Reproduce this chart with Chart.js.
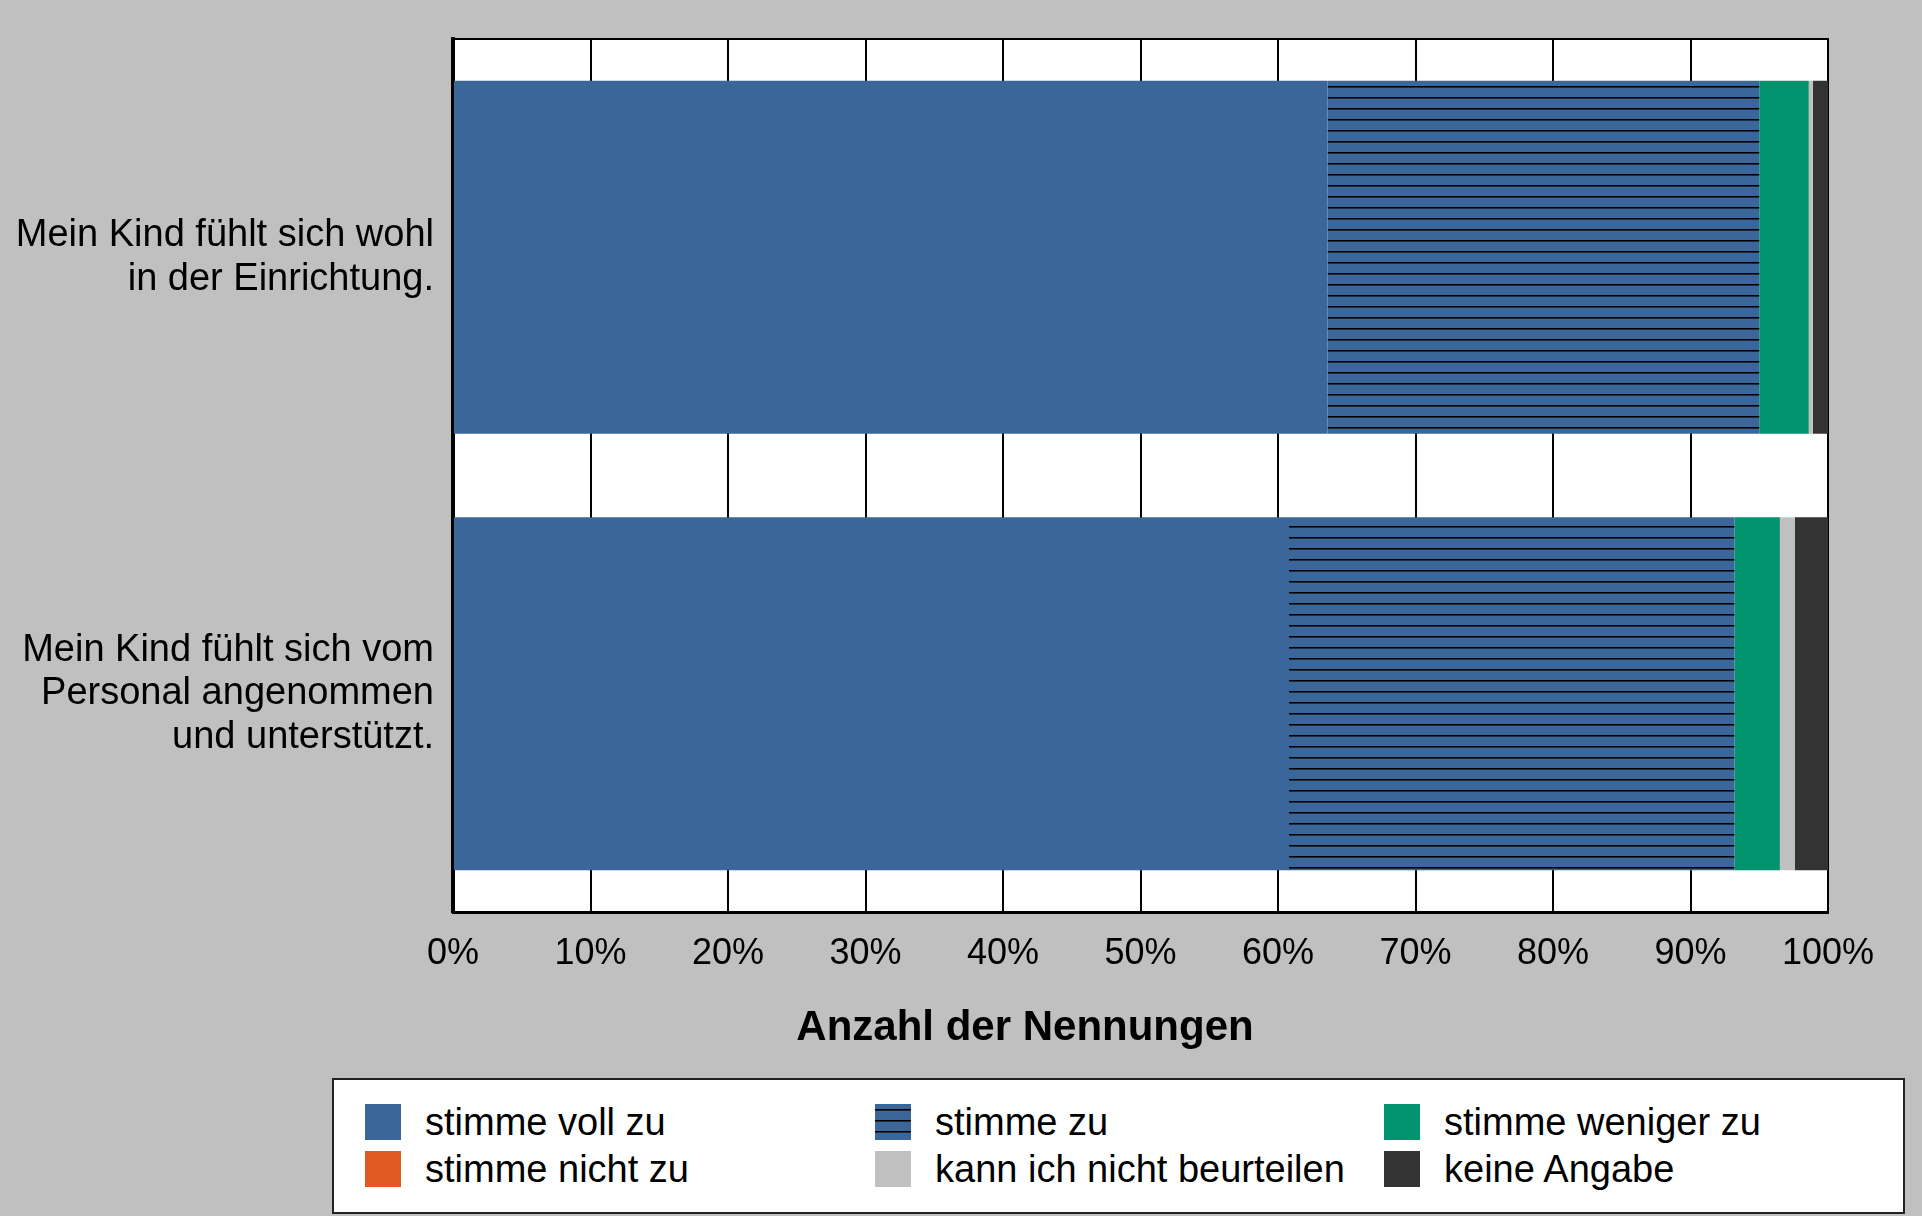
<!DOCTYPE html>
<html lang="de">
<head>
<meta charset="utf-8">
<title>Anzahl der Nennungen</title>
<script src="https://cdn.jsdelivr.net/npm/chart.js@4.4.0/dist/chart.umd.min.js"></script>
<style>
  html, body { margin: 0; padding: 0; background: #c0c0c0; }
  #wrap { position: relative; width: 1922px; height: 1216px; }
  #legend {
    position: absolute; left: 332px; top: 1078px; width: 1569px; height: 132px;
    background: #fff; border: 2px solid #222;
    font-family: "Liberation Sans", Arial, sans-serif; font-size: 38px; color: #000;
  }
  .item { position: absolute; height: 36px; display: flex; align-items: center; white-space: nowrap; }
  .box { width: 36px; height: 36px; margin-right: 24px; flex: none; }
</style>
</head>
<body>
<div id="wrap">
  <canvas id="chart" width="1922" height="1216"></canvas>
  <div id="legend"></div>
</div>
<script>
// Data (shares in %)
const categories = [
    ["Mein Kind fühlt sich wohl", "in der Einrichtung."],
    ["Mein Kind fühlt sich vom", "Personal angenommen", "und unterstützt."]
];
const seriesNames = ["stimme voll zu", "stimme zu", "stimme weniger zu", "stimme nicht zu", "kann ich nicht beurteilen", "keine Angabe"];
const stimmeVollZu = [63.6, 60.8];
const stimmeZu = [31.4, 32.4];
const stimmeWenigerZu = [3.6, 3.3];
const stimmeNichtZu = [0, 0];
const kannNichtBeurteilen = [0.3, 1.1];
const keineAngabe = [1.1, 2.4];
const xTickLabels = ["0%", "10%", "20%", "30%", "40%", "50%", "60%", "70%", "80%", "90%", "100%"];
const xTitle = "Anzahl der Nennungen";

const blue = '#3a6699';

function stripePattern() { // horizontal black lines on blue for "stimme zu"
    const c = document.createElement('canvas');
    c.width = 8;
    c.height = 11;
    const g = c.getContext('2d');
    g.fillStyle = blue;
    g.fillRect(0, 0, 8, 11);
    g.fillStyle = '#000';
    g.fillRect(0, 9, 8, 1);
    g.fillStyle = '#1b2c40';
    g.fillRect(0, 10, 8, 1);
    return g.createPattern(c, 'repeat');
}

const seriesValues = [stimmeVollZu, stimmeZu, stimmeWenigerZu, stimmeNichtZu, kannNichtBeurteilen, keineAngabe];
const seriesFills = [blue, stripePattern(), '#00936e', '#df5a21', '#c0c0c0', '#333333'];
const legendFills = [blue,
    'repeating-linear-gradient(to bottom, #3a6699 0 5px, #000 5px 6px, #1b2c40 6px 7px, #3a6699 7px 11px)',
    '#00936e', '#df5a21', '#c0c0c0', '#333333'];

// white plot area, thin top frame line and the axis title
const plotFrame = {
    id: 'plotFrame',
    beforeDraw(chart) {
        const {ctx, chartArea: a} = chart;
        ctx.save();
        ctx.fillStyle = '#fff';
        ctx.fillRect(a.left, a.top, a.right - a.left, a.bottom - a.top);
        ctx.restore();
    },
    afterDraw(chart) {
        const {ctx, chartArea: a} = chart;
        ctx.save();
        ctx.strokeStyle = '#000';
        ctx.lineWidth = 2;
        ctx.beginPath();
        ctx.moveTo(a.left, a.top);
        ctx.lineTo(a.right + 1, a.top);
        ctx.stroke();
        ctx.fillStyle = '#000';
        ctx.font = 'bold 42px "Liberation Sans", Arial, sans-serif';
        ctx.textAlign = 'center';
        ctx.textBaseline = 'middle';
        ctx.fillText(xTitle, 1025, a.bottom + 116);
        ctx.restore();
    }
};

Chart.defaults.font.family = '"Liberation Sans", Arial, sans-serif';
Chart.defaults.color = '#000';

const ctx = document.getElementById('chart').getContext('2d');
const myChart = new Chart(ctx, {
    type: 'bar',
    data: {
        labels: categories,
        datasets: seriesNames.map((name, i) => ({
            label: name,
            data: seriesValues[i],
            backgroundColor: seriesFills[i],
            borderWidth: 0,
            barPercentage: 1,
            categoryPercentage: 0.809
        }))
    },
    options: {
        indexAxis: 'y',
        responsive: false,
        animation: false,
        devicePixelRatio: 1,
        layout: {
            padding: {left: 12, right: 94, top: 39, bottom: 242}
        },
        plugins: {
            legend: {display: false},
            tooltip: {enabled: false}
        },
        scales: {
            x: {
                stacked: true,
                min: 0,
                max: 100,
                ticks: {
                    stepSize: 10,
                    autoSkip: false,
                    maxRotation: 0,
                    padding: 20,
                    font: {size: 36},
                    callback: (v, i) => xTickLabels[i]
                },
                grid: {color: '#000', lineWidth: 2, drawTicks: false},
                border: {color: '#000', width: 3},
                afterFit: s => { s.height = 62; }
            },
            y: {
                stacked: true,
                ticks: {
                    padding: 19,
                    font: {size: 38, lineHeight: 1.15}
                },
                grid: {drawOnChartArea: false, drawTicks: false},
                border: {color: '#000', width: 4},
                afterFit: s => {
                    s.width = 441;
                    s.paddingTop = 0;
                    s.paddingBottom = 0;
                }
            }
        }
    },
    plugins: [plotFrame]
});

// legend: three columns, two rows, built from the series arrays
const legend = document.getElementById('legend');
const colX = [31, 541, 1050];
const rowY = [24, 71];
seriesNames.forEach((name, i) => {
    const item = document.createElement('div');
    item.className = 'item';
    item.style.left = colX[i % 3] + 'px';
    item.style.top = rowY[Math.floor(i / 3)] + 'px';
    const box = document.createElement('div');
    box.className = 'box';
    box.style.background = legendFills[i];
    const txt = document.createElement('span');
    txt.textContent = name;
    item.appendChild(box);
    item.appendChild(txt);
    legend.appendChild(item);
});
</script>
</body>
</html>
